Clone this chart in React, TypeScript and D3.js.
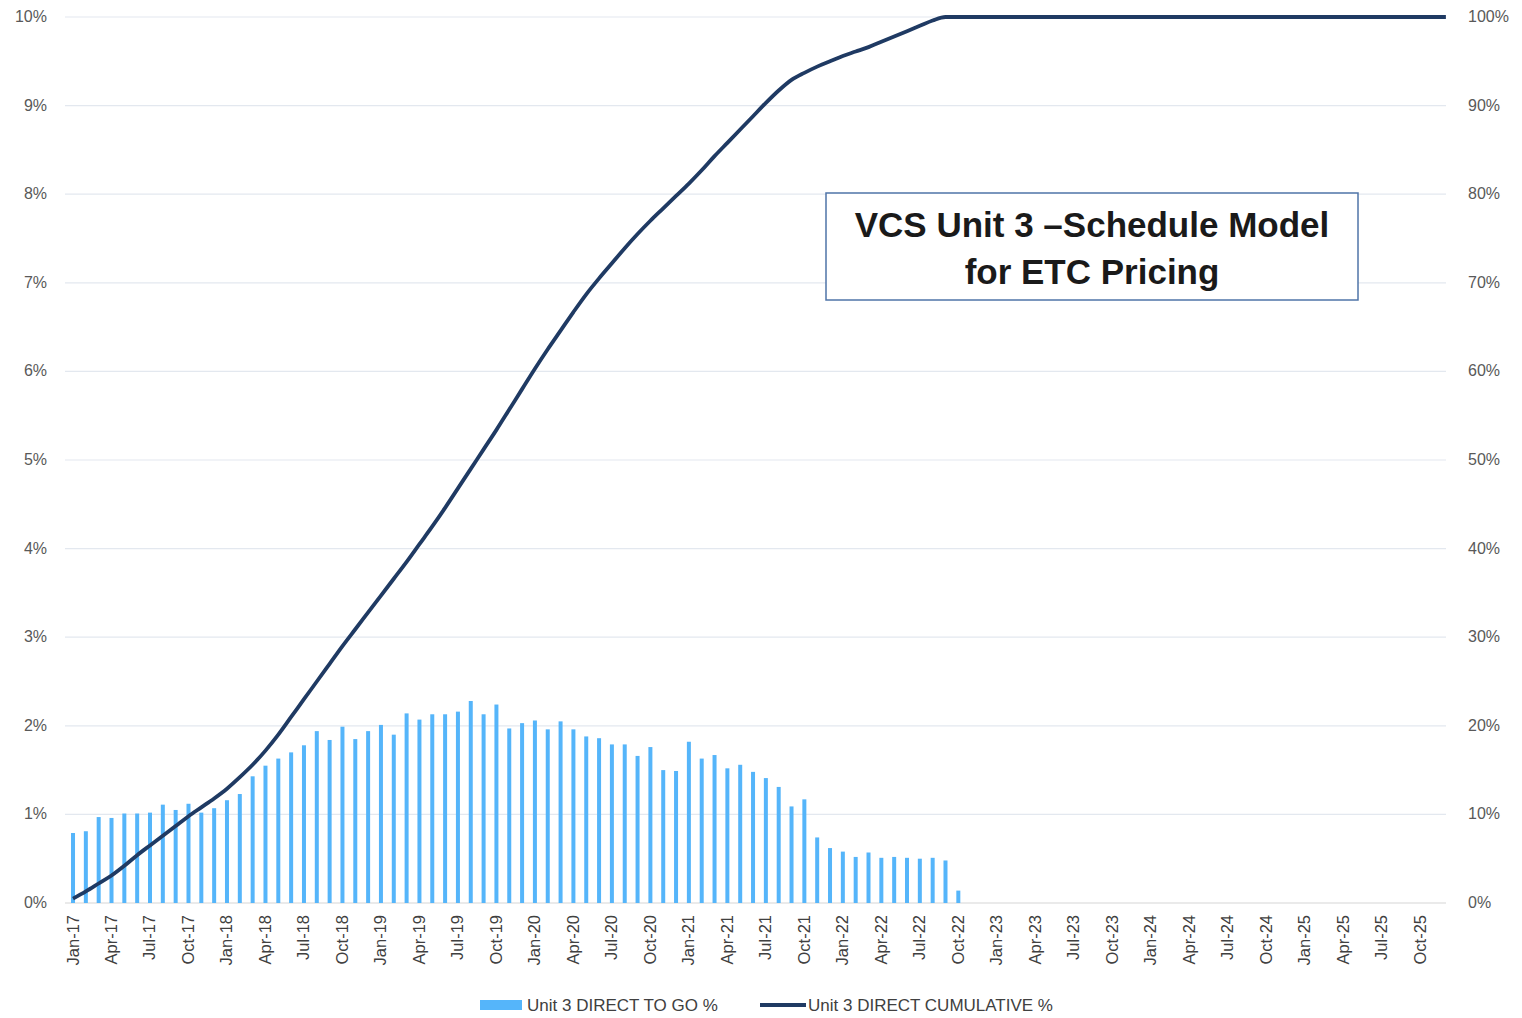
import React, { useRef, useEffect } from 'react';
import * as d3 from 'd3';

// monthly "to go" % (bars), Jan-17 .. Oct-22
const toGo2017 = [0.79, 0.81, 0.97, 0.96, 1.01, 1.01, 1.02, 1.11, 1.05, 1.12, 1.02, 1.07];
const toGo2018 = [1.16, 1.23, 1.43, 1.55, 1.63, 1.70, 1.78, 1.94, 1.84, 1.99, 1.85, 1.94];
const toGo2019 = [2.01, 1.90, 2.14, 2.07, 2.13, 2.13, 2.16, 2.28, 2.13, 2.24, 1.97, 2.03];
const toGo2020 = [2.06, 1.96, 2.05, 1.96, 1.88, 1.86, 1.79, 1.79, 1.66, 1.76, 1.50, 1.49];
const toGo2021 = [1.82, 1.63, 1.67, 1.52, 1.56, 1.48, 1.41, 1.31, 1.09, 1.17, 0.74, 0.62];
const toGo2022 = [0.58, 0.52, 0.57, 0.51, 0.52, 0.51, 0.50, 0.51, 0.48, 0.14];

// cumulative % (line), Jan-17 .. Dec-25
const cum2017 = [0.5, 1.3, 2.2, 3.1, 4.2, 5.4, 6.5, 7.6, 8.7, 9.8, 10.8, 11.8];
const cum2018 = [12.9, 14.2, 15.6, 17.2, 19.0, 21.0, 23.0, 25.0, 27.0, 29.0, 30.9, 32.8];
const cum2019 = [34.7, 36.6, 38.5, 40.5, 42.5, 44.6, 46.8, 49.0, 51.2, 53.4, 55.7, 58.0];
const cum2020 = [60.3, 62.5, 64.6, 66.7, 68.7, 70.5, 72.2, 73.9, 75.5, 77.0, 78.4, 79.8];
const cum2021 = [81.2, 82.7, 84.3, 85.8, 87.3, 88.8, 90.3, 91.7, 92.9, 93.7, 94.4, 95.0];
const cum2022 = [95.6, 96.1, 96.6, 97.2, 97.8, 98.4, 99.0, 99.6, 100, 100, 100, 100];
const cum2023 = [100, 100, 100, 100, 100, 100, 100, 100, 100, 100, 100, 100];
const cum2024 = [100, 100, 100, 100, 100, 100, 100, 100, 100, 100, 100, 100];
const cum2025 = [100, 100, 100, 100, 100, 100, 100, 100, 100, 100, 100, 100];

const leftTicks = [0, 1, 2, 3, 4, 5, 6, 7, 8, 9, 10];
const rightTicks = [0, 10, 20, 30, 40, 50, 60, 70, 80, 90, 100];

const barName = 'Unit 3 DIRECT TO GO %';
const lineName = 'Unit 3 DIRECT CUMULATIVE %';
const titleLines = ['VCS Unit 3 \u2013Schedule Model', 'for ETC Pricing'];

const FONT = 'Liberation Sans, Arial, sans-serif';

const App = () => {
  const ref = useRef(null);

  useEffect(() => {
    const W = 1522, H = 1018;
    const root = d3.select(ref.current);
    root.selectAll('*').remove();

    const months = d3.timeMonths(new Date(2017, 0, 1), new Date(2026, 0, 1));
    const fmt = d3.timeFormat('%b-%y');
    const toGo = [...toGo2017, ...toGo2018, ...toGo2019, ...toGo2020, ...toGo2021, ...toGo2022];
    const cum = [...cum2017, ...cum2018, ...cum2019, ...cum2020, ...cum2021, ...cum2022, ...cum2023, ...cum2024, ...cum2025];

    const svg = root.append('svg')
      .attr('width', W)
      .attr('height', H)
      .style('position', 'absolute')
      .style('left', 0)
      .style('top', 0)
      .style('background', '#fff');

    const x = d3.scaleBand()
      .domain(months.map((_, i) => String(i)))
      .range([66.6, 1452.3]);
    const yL = d3.scaleLinear().domain([0, 10]).range([903, 17]);
    const yR = d3.scaleLinear().domain([0, 100]).range([903, 17]);
    const cx = i => x(String(i)) + x.bandwidth() / 2;
    const gx0 = 65, gx1 = 1446;

    // gridlines
    svg.append('g').selectAll('line')
      .data(leftTicks.filter(d => d > 0))
      .enter().append('line')
      .attr('x1', gx0).attr('x2', gx1)
      .attr('y1', d => yL(d)).attr('y2', d => yL(d))
      .attr('stroke', '#e3e8ef').attr('stroke-width', 1.2);
    svg.append('line')
      .attr('x1', gx0).attr('x2', gx1)
      .attr('y1', yL(0)).attr('y2', yL(0))
      .attr('stroke', '#d6d6d6').attr('stroke-width', 1.2);

    // left axis labels
    svg.append('g').selectAll('text')
      .data(leftTicks)
      .enter().append('text')
      .attr('x', 47).attr('y', d => yL(d) + 5)
      .attr('text-anchor', 'end')
      .attr('font-family', FONT)
      .attr('font-size', 16)
      .attr('fill', '#595959')
      .text(d => d + '%');

    // right axis labels
    svg.append('g').selectAll('text')
      .data(rightTicks)
      .enter().append('text')
      .attr('x', 1468).attr('y', d => yR(d) + 5)
      .attr('text-anchor', 'start')
      .attr('font-family', FONT)
      .attr('font-size', 16)
      .attr('fill', '#595959')
      .text(d => d + '%');

    // x labels every 3 months
    svg.append('g').selectAll('text')
      .data(months.map((m, i) => ({ m, i })).filter(d => d.i % 3 === 0))
      .enter().append('text')
      .attr('transform', d => `translate(${cx(d.i) + 5.5},915) rotate(-90)`)
      .attr('text-anchor', 'end')
      .attr('font-family', FONT)
      .attr('font-size', 16.5)
      .attr('fill', '#404040')
      .text(d => fmt(d.m));

    // bars
    svg.append('g').selectAll('rect')
      .data(toGo)
      .enter().append('rect')
      .attr('x', (_, i) => cx(i) - 2)
      .attr('width', 4)
      .attr('y', d => yL(d))
      .attr('height', d => yL(0) - yL(d))
      .attr('fill', '#55b5fa');

    // cumulative line
    const line = d3.line()
      .x((_, i) => cx(i))
      .y(d => yR(d))
      .curve(d3.curveMonotoneX);
    svg.append('path')
      .datum(cum)
      .attr('fill', 'none')
      .attr('stroke', '#1f3a63')
      .attr('stroke-width', 3.8)
      .attr('d', line);

    // title box
    svg.append('rect')
      .attr('x', 826).attr('y', 193)
      .attr('width', 532).attr('height', 107)
      .attr('fill', '#fff')
      .attr('stroke', '#4f74a8')
      .attr('stroke-width', 1.5);
    svg.append('g').selectAll('text')
      .data(titleLines)
      .enter().append('text')
      .attr('x', 1092)
      .attr('y', (_, i) => 237 + i * 47)
      .attr('text-anchor', 'middle')
      .attr('font-family', FONT)
      .attr('font-weight', 'bold')
      .attr('font-size', 35)
      .attr('fill', '#1a1a1a')
      .text(d => d);

    // legend
    const lg = svg.append('g');
    lg.append('rect')
      .attr('x', 480).attr('y', 1000).attr('width', 42).attr('height', 10)
      .attr('fill', '#55b5fa');
    lg.append('text')
      .attr('x', 527).attr('y', 1011)
      .attr('font-family', FONT)
      .attr('font-size', 17)
      .attr('fill', '#404040')
      .text(barName);
    lg.append('line')
      .attr('x1', 760).attr('x2', 806).attr('y1', 1005).attr('y2', 1005)
      .attr('stroke', '#1f3a63').attr('stroke-width', 4);
    lg.append('text')
      .attr('x', 808).attr('y', 1011)
      .attr('font-family', FONT)
      .attr('font-size', 17)
      .attr('fill', '#404040')
      .text(lineName);
  }, []);

  return <div ref={ref} />;
};

export default App;
